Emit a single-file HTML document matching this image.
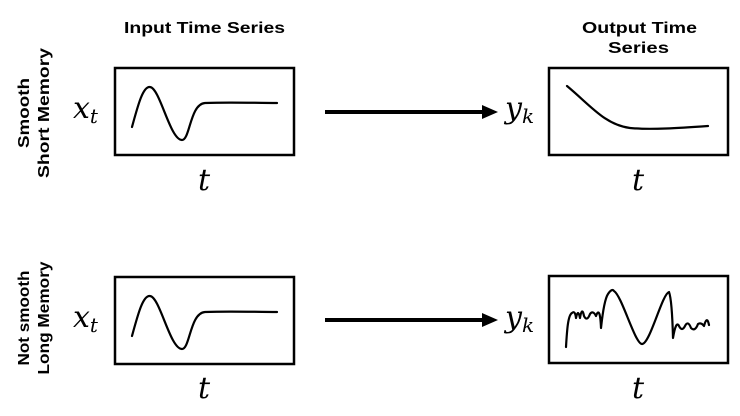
<!DOCTYPE html>
<html><head><style>
html,body{margin:0;padding:0;background:#fff;}
svg{display:block;}
.h{font-family:"Liberation Sans",sans-serif;font-weight:bold;font-size:16px;fill:#000;}
.m{font-family:"DejaVu Serif","Liberation Serif",serif;font-style:italic;fill:#000;}
</style></head><body>
<svg width="740" height="416" viewBox="0 0 740 416" xmlns="http://www.w3.org/2000/svg">
<text class="h" x="124" y="33" textLength="161" lengthAdjust="spacingAndGlyphs">Input Time Series</text>
<text class="h" x="582" y="33" textLength="115" lengthAdjust="spacingAndGlyphs">Output Time</text>
<text class="h" x="608" y="53" textLength="61" lengthAdjust="spacingAndGlyphs">Series</text>

<g transform="translate(29,113) rotate(-90)"><text class="h" x="0" y="0" text-anchor="middle" textLength="70" lengthAdjust="spacingAndGlyphs">Smooth</text><text class="h" x="0" y="20" text-anchor="middle" textLength="130" lengthAdjust="spacingAndGlyphs">Short Memory</text></g>
<g transform="translate(29,318) rotate(-90)"><text class="h" x="0" y="0" text-anchor="middle" textLength="95" lengthAdjust="spacingAndGlyphs">Not smooth</text><text class="h" x="0" y="20" text-anchor="middle" textLength="113" lengthAdjust="spacingAndGlyphs">Long Memory</text></g>

<g fill="none" stroke="#000" stroke-width="2.5">
<rect x="115" y="68" width="179" height="87"/>
<rect x="549" y="68" width="179" height="87"/>
<rect x="115" y="277" width="179" height="87"/>
<rect x="549" y="276" width="179" height="87"/>
</g>
<g fill="none" stroke="#000" stroke-width="2.2" stroke-linecap="round" stroke-linejoin="round">
<path d="M132,127 C138,105 143,86 150,87 C160,88 170,140 182,140 C190,140 190,104 205,103 C230,102 255,103 277,103"/>
<path d="M132,336 C138,314 143,295 150,296 C160,297 170,349 182,349 C190,349 190,313 205,312 C230,311 255,312 277,312"/>
<path d="M567,86 C590,105 605,125 630,128 C650,130 680,128 708,126"/>
<path d="M566,347 C567,330 568,315 572,313 Q575,310 576,318 Q578,308 580,318 Q582,306 584,316 Q587,322 590,314 Q593,310 596,316 Q600,305 601,328 Q604,300 608,294 Q612,288 614,291 C622,296 635,344 642,344 C650,344 662,294 669,292 Q672,300 673,338 Q676,320 679,326 Q682,332 685,326 Q688,320 691,328 Q695,332 698,324 Q701,322 704,326 Q707,315 709,325"/>
</g>
<g stroke="#000" stroke-width="4">
<line x1="325" y1="112" x2="485" y2="112"/>
<line x1="325" y1="320" x2="485" y2="320"/>
</g>
<polygon points="482,105 498,112 482,119" fill="#000"/>
<polygon points="482,313 498,320 482,327" fill="#000"/>

<text class="m" x="73" y="118" font-size="30">x<tspan font-size="20" dy="5">t</tspan></text>
<text class="m" x="73" y="327" font-size="30">x<tspan font-size="20" dy="5">t</tspan></text>
<text class="m" x="505" y="118" font-size="30">y<tspan font-size="20" dy="5">k</tspan></text>
<text class="m" x="505" y="327" font-size="30">y<tspan font-size="20" dy="5">k</tspan></text>
<text class="m" x="204" y="190" font-size="30" text-anchor="middle">t</text>
<text class="m" x="204" y="398" font-size="30" text-anchor="middle">t</text>
<text class="m" x="638" y="190" font-size="30" text-anchor="middle">t</text>
<text class="m" x="638" y="398" font-size="30" text-anchor="middle">t</text>
</svg>
</body></html>
